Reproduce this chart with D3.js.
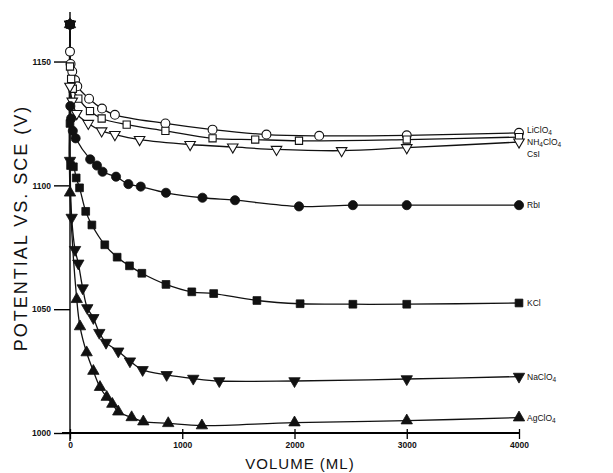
<!DOCTYPE html>
<html>
<head>
<meta charset="utf-8">
<script src="https://cdn.jsdelivr.net/npm/d3@7"></script>
<style>
  html, body { margin: 0; padding: 0; background: #fff; }
  svg { display: block; font-family: "Liberation Sans", Arial, sans-serif; }
</style>
</head>
<body>
<svg id="chart" width="613" height="473"></svg>
<script>
// Volume (mL) vs potential readings, one array of [volume, potential] per electrolyte
const liClO4 = [[0,1165],[0,1154],[5,1149],[20,1146],[45,1142.5],[65,1140],[170,1135],[285,1131],[400,1128.5],[850,1125],[1270,1122.5],[1750,1120.5],[2220,1120],[3000,1120.2],[4000,1121.2]];
const nh4ClO4 = [[0,1165],[0,1148],[10,1143],[25,1139],[74,1135],[178,1130],[282,1127],[505,1124.5],[850,1122],[1270,1119],[1650,1118.5],[2040,1118],[3000,1118.5],[4000,1119.5]];
const csI = [[0,1165],[0,1140],[20,1134],[60,1129],[163,1125],[282,1122],[400,1120.5],[620,1118.5],[1070,1116.5],[1450,1115.5],[1840,1114.5],[2420,1114],[3000,1115.2],[4000,1117.5]];
const rbI = [[0,1165],[3,1132],[10,1127],[25,1122],[50,1119],[180,1110.5],[240,1108],[290,1105.5],[410,1103.5],[520,1100.5],[630,1099.5],[855,1097],[1180,1095],[1470,1094],[2040,1091.5],[2520,1092],[3000,1092],[4000,1092]];
const kCl = [[0,1165],[0,1125],[5,1108],[30,1107.5],[55,1103],[85,1099],[140,1089.5],[195,1084],[310,1076],[420,1071],[530,1067.5],[640,1064.5],[855,1060],[1085,1057],[1280,1056.3],[1665,1053.5],[2050,1052.2],[2520,1052],[3000,1052],[4000,1052.5]];
const naClO4 = [[0,1165],[0,1110],[15,1087],[45,1074],[74,1068.5],[113,1058.5],[154,1050.5],[208,1046.5],[261,1040.5],[321,1036.5],[430,1033],[534,1029],[647,1025.5],[861,1023.5],[1098,1022],[1330,1021],[2000,1021],[3000,1021.8],[4000,1022.8]];
const agClO4 = [[0,1165],[0,1097],[60,1054],[89,1043],[148,1032.5],[208,1025],[267,1018.5],[327,1014.5],[377,1011.7],[430,1008.6],[549,1006.3],[653,1004.6],[875,1003.9],[1175,1003],[2000,1004.2],[3000,1005],[4000,1006.2]];

const seriesNames = ["LiClO4", "NH4ClO4", "CsI", "RbI", "KCl", "NaClO4", "AgClO4"];
const xTicks = [0, 1000, 2000, 3000, 4000];
const yTicks = [1000, 1050, 1100, 1150];

const seriesData = [liClO4, nh4ClO4, csI, rbI, kCl, naClO4, agClO4];
// marker style per series: symbol, filled?, rotated (down-pointing)
const markerStyle = [
  { type: d3.symbolCircle, filled: false, down: false, size: 62 },
  { type: d3.symbolSquare, filled: false, down: false, size: 52 },
  { type: d3.symbolTriangle, filled: false, down: true, size: 48 },
  { type: d3.symbolCircle, filled: true, down: false, size: 66 },
  { type: d3.symbolSquare, filled: true, down: false, size: 60 },
  { type: d3.symbolTriangle, filled: true, down: true, size: 56 },
  { type: d3.symbolTriangle, filled: true, down: false, size: 56 }
];
// vertical nudge of the end labels (px) so the stacked top three stay readable
const labelNudge = [-3, 5, 12, 0, 0, 0, 0];

const svg = d3.select("#chart");
const x = d3.scaleLinear().domain([0, 4000]).range([70, 519]);
const y = d3.scaleLinear().domain([1000, 1170]).range([433, 12]);

// axes
const yAxis = d3.axisLeft(y).tickValues(yTicks).tickSize(16).tickPadding(3).tickFormat(d3.format("d"));
const gy = svg.append("g").attr("transform", `translate(${x(0)},0)`).call(yAxis);
gy.select(".domain").attr("d", `M0,${y(1000) + 8}V${y(1170)}`).attr("stroke-width", 1.4);
gy.selectAll(".tick line").attr("stroke-width", 1.4);
gy.selectAll(".tick text").attr("font-size", 8.5).attr("font-weight", "bold").attr("fill", "#111");

const xAxis = d3.axisBottom(x).tickValues(xTicks).tickSize(6).tickPadding(3).tickFormat(d3.format("d"));
const gx = svg.append("g").attr("transform", `translate(0,${y(1000)})`).call(xAxis);
gx.select(".domain").attr("d", `M${x(0) - 8},0H${x(4000)}`).attr("stroke-width", 1.8);
gx.selectAll(".tick line").attr("stroke-width", 1.3).attr("y1", -4);
gx.selectAll(".tick text").attr("font-size", 8.5).attr("font-weight", "bold").attr("fill", "#111");

// axis titles
svg.append("text")
  .attr("transform", `translate(27,228) rotate(-90)`)
  .attr("text-anchor", "middle")
  .attr("font-size", 18)
  .attr("letter-spacing", 2)
  .attr("fill", "#111")
  .text("POTENTIAL VS. SCE (V)");
svg.append("text")
  .attr("x", 300).attr("y", 469)
  .attr("text-anchor", "middle")
  .attr("font-size", 15)
  .attr("letter-spacing", 1)
  .attr("fill", "#111")
  .text("VOLUME (ML)");

// curves
const line = d3.line()
  .x(d => x(d[0]))
  .y(d => y(d[1]))
  .curve(d3.curveCatmullRom.alpha(0.5));

const g = svg.append("g");
seriesData.forEach(data => {
  g.append("path")
    .datum(data)
    .attr("d", line)
    .attr("fill", "none")
    .attr("stroke", "#111")
    .attr("stroke-width", 1.3);
});

// markers
seriesData.forEach((data, i) => {
  const st = markerStyle[i];
  const sym = d3.symbol().type(st.type).size(st.size);
  g.selectAll(null)
    .data(data)
    .join("path")
    .attr("d", sym)
    .attr("transform", d => `translate(${x(d[0])},${y(d[1])})${st.down ? " rotate(180)" : ""}`)
    .attr("fill", st.filled ? "#111" : "#fff")
    .attr("stroke", "#111")
    .attr("stroke-width", st.filled ? 0.8 : 1.1);
});

// end labels with subscripted digits
seriesNames.forEach((name, i) => {
  const data = seriesData[i];
  const last = data[data.length - 1];
  const t = svg.append("text")
    .attr("x", x(last[0]) + 8)
    .attr("y", y(last[1]) + 3 + labelNudge[i])
    .attr("font-size", 8.5)
    .attr("fill", "#111");
  const parts = name.match(/[A-Za-z]+|\d+/g);
  let shifted = 0;
  parts.forEach(p => {
    const isSub = /\d/.test(p);
    const dy = (isSub ? 2 : 0) - shifted;
    const ts = t.append("tspan").text(p);
    if (dy !== 0) ts.attr("dy", dy);
    if (isSub) ts.attr("font-size", 6.5);
    shifted = isSub ? 2 : 0;
  });
});
</script>
</body>
</html>
